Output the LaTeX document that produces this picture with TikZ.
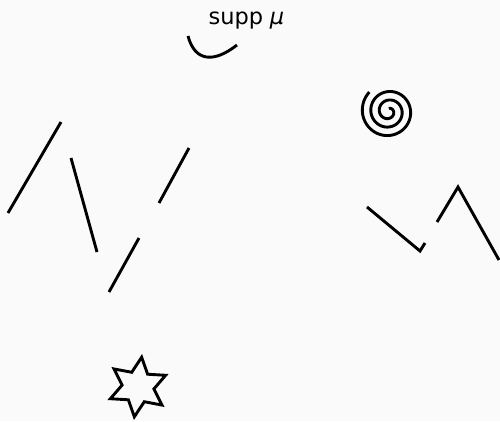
\documentclass[tikz,border=0pt]{standalone}
\usepackage{fontspec}
\newfontfamily\dejavu{DejaVu Sans}
\definecolor{bg}{RGB}{250,250,250}
\begin{document}
\begin{tikzpicture}[x=1pt,y=-1pt, stroke/.style={line width=2.9pt, black}]
\fill[bg] (0,0) rectangle (500,421);
\useasboundingbox (0,0) rectangle (500,421);
\node[anchor=base, inner sep=0] (lbl) at (246.5,24.5) {\fontsize{22.5}{26}\selectfont\dejavu supp\hspace{0.3em}{\itshape μ}};
% curve under label
\draw[stroke] (188,36) .. controls (195,62) and (214,63) .. (237,45);
% straight segments
\draw[stroke] (61,122) -- (8,213);
\draw[stroke] (71,158) -- (97,252);
\draw[stroke] (189,148) -- (159,203);
\draw[stroke] (139,238) -- (109,292);
% polylines
\draw[stroke] (367,207) -- (420,251) -- (425,243);
\draw[stroke] (437,222) -- (458,187) -- (499,260);
% spiral
\draw[stroke] plot[domain=135:1165, samples=300, smooth] ({388.6+(27.3-8.5*(\x-135)/360)*cos(\x)}, {111.4-(27.3-8.5*(\x-135)/360)*sin(\x)});
% star
\draw[stroke, shift={(138,387)}] (-83:30) -- (-113:16) -- (-143:30) -- (-173:16) -- (-203:30) -- (-233:16) -- (-263:30) -- (-293:16) -- (-323:30) -- (-353:16) -- (-23:30) -- (-53:16) -- cycle;
\end{tikzpicture}
\end{document}
